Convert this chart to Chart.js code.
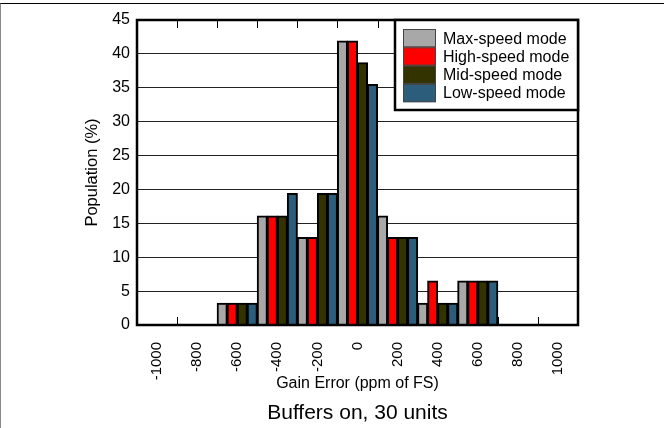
<!DOCTYPE html>
<html lang="en">
<head>
<meta charset="UTF-8">
<title>Gain Error Histogram</title>
<script src="https://cdn.jsdelivr.net/npm/chart.js"></script>
<style>
  body { margin: 0; background: #fff; }
  .wrap { position: relative; width: 664px; height: 428px; }
  canvas { display: block; }
  .edge {
    position: absolute; left: 0; top: 3px; right: 0; bottom: 0;
    border-top: 1px solid #000; border-left: 1px solid #888;
    pointer-events: none;
  }
</style>
</head>
<body>
<div class="wrap">
  <canvas id="chart" width="664" height="428"></canvas>
  <div class="edge"></div>
</div>
<script>
// bins of gain error, ppm of FS
const binLabels = ['-1000', '-800', '-600', '-400', '-200', '0', '200', '400', '600', '800', '1000'];
// population in % per mode
const maxSpeed  = [0, 0, 3.2, 16.1, 12.9, 41.9, 16.1, 3.2, 6.5, 0, 0];
const highSpeed = [0, 0, 3.2, 16.1, 12.9, 41.9, 12.9, 6.5, 6.5, 0, 0];
const midSpeed  = [0, 0, 3.2, 16.1, 19.4, 38.7, 12.9, 3.2, 6.5, 0, 0];
const lowSpeed  = [0, 0, 3.2, 19.4, 19.4, 35.5, 12.9, 3.2, 6.5, 0, 0];
const seriesNames = ['Max-speed mode', 'High-speed mode', 'Mid-speed mode', 'Low-speed mode'];
const seriesColors = ['#A8A8A8', '#FF0000', '#333300', '#2C5D7A'];
const yMax = 45;
const yStep = 5;
const captionText = 'Buffers on, 30 units';

const FONT = "'Liberation Sans', Arial, sans-serif";

// frame + small inward ticks at bin edges
const framePlugin = {
  id: 'frame',
  afterDatasetsDraw(chart) {
    const { ctx, chartArea: a, scales: { x } } = chart;
    ctx.save();
    ctx.strokeStyle = '#000';
    ctx.lineWidth = 1;
    ctx.beginPath();
    for (let i = 1; i < binLabels.length; i++) {
      const px = Math.round((x.getPixelForValue(i - 1) + x.getPixelForValue(i)) / 2) + 0.5;
      ctx.moveTo(px, a.top); ctx.lineTo(px, a.top + 8);
      ctx.moveTo(px, a.bottom); ctx.lineTo(px, a.bottom - 8);
    }
    ctx.stroke();
    ctx.lineWidth = 2.5;
    ctx.strokeRect(a.left, a.top, a.right - a.left, a.bottom - a.top);
    ctx.restore();
  }
};

// boxed legend in the top right corner of the plot
const boxLegend = {
  id: 'boxLegend',
  afterDraw(chart) {
    const { ctx, chartArea: a } = chart;
    const w = 183, h = 90;
    const left = a.right - w, top = a.top;
    ctx.save();
    ctx.fillStyle = '#fff';
    ctx.fillRect(left, top, w, h);
    ctx.strokeStyle = '#000';
    ctx.lineWidth = 2.5;
    ctx.strokeRect(left, top, w, h);
    ctx.font = '16px ' + FONT;
    ctx.textBaseline = 'middle';
    const rowH = 18.3;
    chart.data.datasets.forEach((ds, i) => {
      const y = top + 9 + i * rowH;
      ctx.fillStyle = ds.backgroundColor;
      ctx.fillRect(left + 8, y, 33, rowH);
      ctx.lineWidth = 1;
      ctx.strokeStyle = '#444';
      ctx.strokeRect(left + 8.5, y + 0.5, 32, rowH - 1);
      ctx.fillStyle = '#000';
      ctx.fillText(ds.label, left + 48, y + rowH / 2 + 1);
    });
    ctx.restore();
  }
};

const captionPlugin = {
  id: 'caption',
  afterDraw(chart) {
    const { ctx, chartArea: a } = chart;
    ctx.save();
    ctx.font = '21px ' + FONT;
    ctx.fillStyle = '#000';
    ctx.textAlign = 'center';
    ctx.textBaseline = 'middle';
    ctx.fillText(captionText, (a.left + a.right) / 2, 413);
    ctx.restore();
  }
};

const values = [maxSpeed, highSpeed, midSpeed, lowSpeed];

new Chart(document.getElementById('chart'), {
  type: 'bar',
  data: {
    labels: binLabels,
    datasets: values.map((v, i) => ({
      label: seriesNames[i],
      data: v,
      backgroundColor: seriesColors[i],
      borderColor: '#000',
      borderWidth: 2,
      inflateAmount: 0.5,
      categoryPercentage: 1,
      barPercentage: 1
    }))
  },
  options: {
    responsive: false,
    animation: false,
    layout: { padding: { left: 80, right: 86, top: 20, bottom: 30 } },
    plugins: {
      legend: { display: false },
      tooltip: { enabled: false }
    },
    scales: {
      x: {
        grid: { display: false },
        border: { display: false },
        ticks: {
          color: '#000',
          font: { family: FONT, size: 15 },
          minRotation: 90,
          maxRotation: 90,
          autoSkip: false,
          padding: 9
        },
        title: {
          display: true,
          text: 'Gain Error (ppm of FS)',
          color: '#000',
          font: { family: FONT, size: 16 },
          padding: { top: 0, bottom: 5 }
        },
        afterFit(scale) { scale.height = 73; }
      },
      y: {
        min: 0,
        max: yMax,
        grid: { color: '#222', lineWidth: 1, drawTicks: false },
        border: { display: false },
        ticks: {
          stepSize: yStep,
          color: '#000',
          font: { family: FONT, size: 16 },
          padding: 7
        },
        title: {
          display: true,
          text: 'Population (%)',
          color: '#000',
          font: { family: FONT, size: 16.5 },
          padding: { top: 2.5, bottom: 0 }
        },
        afterFit(scale) { scale.width = 57; }
      }
    }
  },
  plugins: [framePlugin, boxLegend, captionPlugin]
});
</script>
</body>
</html>
